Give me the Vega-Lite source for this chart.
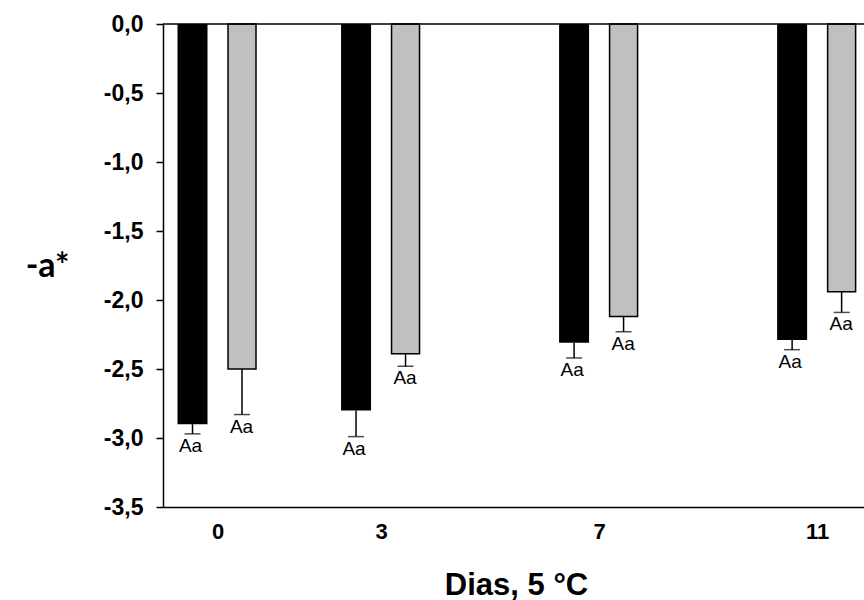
{
  "$schema": "https://vega.github.io/schema/vega-lite/v6.json",
  "width": 701,
  "height": 483,
  "autosize": {"type": "none"},
  "padding": {"left": 163, "top": 24, "right": 0, "bottom": 93},
  "background": "white",
  "config": {"view": {"stroke": null}},
  "data": {"values": [
    {"dia": 0, "grupo": "A", "media": -2.90, "limite": -2.97, "letra": "Aa"},
    {"dia": 0, "grupo": "B", "media": -2.50, "limite": -2.83, "letra": "Aa"},
    {"dia": 3, "grupo": "A", "media": -2.80, "limite": -2.99, "letra": "Aa"},
    {"dia": 3, "grupo": "B", "media": -2.39, "limite": -2.48, "letra": "Aa"},
    {"dia": 7, "grupo": "A", "media": -2.31, "limite": -2.42, "letra": "Aa"},
    {"dia": 7, "grupo": "B", "media": -2.12, "limite": -2.23, "letra": "Aa"},
    {"dia": 11, "grupo": "A", "media": -2.29, "limite": -2.36, "letra": "Aa"},
    {"dia": 11, "grupo": "B", "media": -1.94, "limite": -2.09, "letra": "Aa"}
  ]},
  "encoding": {
    "x": {"field": "dia", "type": "quantitative",
      "scale": {"domain": [-1, 11.86], "nice": false, "zero": false, "padding": 0},
      "axis": {"values": [0, 3, 7, 11], "ticks": false, "labelPadding": 14,
        "labelFont": "Liberation Sans", "labelFontWeight": "bold", "labelFontSize": 22, "labelColor": "black",
        "domainColor": "black", "domainWidth": 1.5, "grid": false,
        "title": "Dias, 5 °C", "titleFont": "Liberation Sans", "titleFontSize": 31, "titleFontWeight": "bold",
        "titleColor": "black", "titleX": 353, "titleY": 87, "titleBaseline": "alphabetic", "titleAlign": "center"}}
  },
  "layer": [
    {
      "transform": [{"filter": "datum.grupo === 'A'"}],
      "mark": {"type": "bar", "color": "black", "size": 30, "xOffset": -25},
      "encoding": {
        "y": {"field": "media", "type": "quantitative",
          "scale": {"domain": [-3.5, 0], "nice": false, "padding": 0},
          "axis": {"values": [0, -0.5, -1, -1.5, -2, -2.5, -3, -3.5],
            "labelExpr": "(datum.value < 0 ? '-' : '') + replace(format(abs(datum.value), '.1f'), '.', ',')",
            "tickSize": 7, "tickColor": "black", "tickWidth": 1.5, "labelPadding": 13,
            "labelFont": "Liberation Sans", "labelFontWeight": "bold", "labelFontSize": 23, "labelColor": "black",
            "grid": false, "domainColor": "black", "domainWidth": 1.5,
            "title": "-a*", "titleAngle": 0, "titleX": -116, "titleY": 242, "titleAlign": "center", "titleBaseline": "middle",
            "titleFont": "Lato", "titleFontSize": 34, "titleFontWeight": "bold", "titleColor": "black"}}
      }
    },
    {
      "transform": [{"filter": "datum.grupo === 'B'"}],
      "mark": {"type": "bar", "color": "#c0c0c0", "stroke": "black", "strokeWidth": 1.5, "size": 28, "xOffset": 24.5},
      "encoding": {
        "y": {"field": "media", "type": "quantitative", "title": "-a*"}
      }
    },
    {
      "transform": [{"filter": "datum.grupo === 'A'"}],
      "mark": {"type": "rule", "color": "black", "strokeWidth": 1.5, "xOffset": -25},
      "encoding": {
        "y": {"field": "media", "type": "quantitative", "title": "-a*"},
        "y2": {"field": "limite"}
      }
    },
    {
      "transform": [{"filter": "datum.grupo === 'B'"}],
      "mark": {"type": "rule", "color": "black", "strokeWidth": 1.5, "xOffset": 24.5},
      "encoding": {
        "y": {"field": "media", "type": "quantitative", "title": "-a*"},
        "y2": {"field": "limite"}
      }
    },
    {
      "transform": [{"filter": "datum.grupo === 'A'"}],
      "mark": {"type": "tick", "orient": "horizontal", "color": "black", "size": 16, "thickness": 1.5, "xOffset": -25},
      "encoding": {
        "y": {"field": "limite", "type": "quantitative", "title": "-a*"}
      }
    },
    {
      "transform": [{"filter": "datum.grupo === 'B'"}],
      "mark": {"type": "tick", "orient": "horizontal", "color": "black", "size": 16, "thickness": 1.5, "xOffset": 24.5},
      "encoding": {
        "y": {"field": "limite", "type": "quantitative", "title": "-a*"}
      }
    },
    {
      "transform": [{"filter": "datum.grupo === 'A'"}],
      "mark": {"type": "text", "baseline": "top", "dy": 3, "xOffset": -27, "font": "Liberation Sans", "fontSize": 19, "color": "black"},
      "encoding": {
        "y": {"field": "limite", "type": "quantitative", "title": "-a*"},
        "text": {"field": "letra"}
      }
    },
    {
      "transform": [{"filter": "datum.grupo === 'B'"}],
      "mark": {"type": "text", "baseline": "top", "dy": 3, "xOffset": 24, "font": "Liberation Sans", "fontSize": 19, "color": "black"},
      "encoding": {
        "y": {"field": "limite", "type": "quantitative", "title": "-a*"},
        "text": {"field": "letra"}
      }
    },
    {
      "transform": [{"filter": "datum.dia === 0 && datum.grupo === 'A'"}],
      "mark": {"type": "rule", "color": "black", "strokeWidth": 1.5},
      "encoding": {
        "x": {"value": 0},
        "x2": {"value": 701},
        "y": {"datum": 0, "type": "quantitative", "title": "-a*"}
      }
    }
  ]
}
